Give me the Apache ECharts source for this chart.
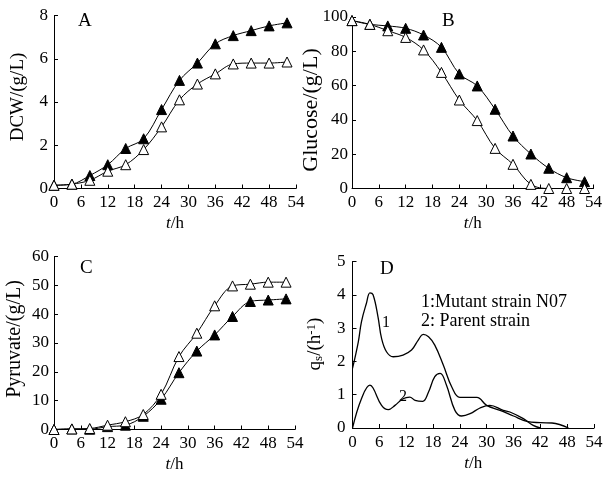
<!DOCTYPE html>
<html>
<head>
<meta charset="utf-8">
<script src="https://cdn.jsdelivr.net/npm/echarts@6/dist/echarts.min.js"></script>
<style>
html,body{margin:0;padding:0;background:#fff;}
#c{width:606px;height:479px;}
</style>
</head>
<body>
<div id="c"></div>
<script>
// ---- data ----
const hours = [0, 4, 8, 12, 16, 20, 24, 28, 32, 36, 40, 44, 48, 52];
const xTicks = [0, 6, 12, 18, 24, 30, 36, 42, 48, 54];

const dcwFilled = [0.15, 0.2, 0.6, 1.1, 1.85, 2.3, 3.65, 5.0, 5.8, 6.69, 7.07, 7.3, 7.52, 7.66];
const dcwOpen = [0.15, 0.2, 0.38, 0.8, 1.1, 1.8, 2.85, 4.1, 4.83, 5.3, 5.76, 5.8, 5.8, 5.85];

const glucoseFilled = [97.9, 95.7, 94.8, 93.4, 89.5, 82.3, 66.8, 59.8, 46.2, 30.6, 20.1, 11.8, 6.3, 4.0];
const glucoseOpen = [97.9, 95.7, 92.0, 88.1, 80.8, 67.7, 51.6, 39.6, 23.4, 14.1, 2.4, 0, 0, 0];

const pyruvateFilled = [0, 0.2, 0.1, 1.0, 1.5, 4.6, 10.5, 19.7, 27.2, 32.8, 39.2, 44.4, 44.9, 45.3];
const pyruvateOpen = [0, 0.2, 0.35, 1.5, 2.7, 5.2, 12.2, 25.3, 33.4, 42.9, 49.8, 50.4, 51.1, 51.1];

// panel D: specific glucose consumption rate curves [t, qs]
const qsMutantT = [0, 1.3, 2, 3.1, 3.9, 4.6, 5.7, 6.5, 7.6, 9.1, 11.3, 13.2, 14.7, 15.8, 17, 18.4, 20.3, 22.2, 24, 27.8, 30, 33, 36, 39, 42, 44.6, 48.3];
const qsMutantV = [1.79, 2.59, 3.19, 3.74, 4.06, 4.0, 3.34, 2.69, 2.29, 2.14, 2.19, 2.34, 2.64, 2.81, 2.74, 2.49, 1.89, 1.23, 0.92, 0.92, 0.68, 0.53, 0.36, 0.2, 0.16, 0.15, 0];
const qsParentT = [0, 2, 3.9, 4.6, 6.5, 8, 9.5, 11.3, 12.8, 14, 15.7, 17, 18.4, 19.6, 21, 22.9, 24.4, 26.3, 28.5, 30.7, 33.7, 35.2, 38.2, 40.4, 42];
const qsParentV = [0, 0.88, 1.29, 1.2, 0.68, 0.55, 0.68, 0.88, 0.93, 0.83, 0.8, 1.08, 1.54, 1.64, 1.29, 0.53, 0.36, 0.43, 0.6, 0.68, 0.53, 0.48, 0.28, 0.08, 0];

const panelLabels = ['A', 'B', 'C', 'D'];
const yNames = ['DCW/(g/L)', 'Glucose/(g/L)', 'Pyruvate/(g/L)', 'q{sub|s}/(h{sup|-1})'];
const legendLines = ['1:Mutant strain N07', '2: Parent strain'];
const curveTags = ['1', '2'];

// ---- chart ----
const FONT = '"Liberation Serif", "Times New Roman", serif';
const chart = echarts.init(document.getElementById('c'), null, {renderer: 'canvas'});

const grids = [
  {left: 54, top: 15.5, width: 242, height: 173},
  {left: 352, top: 17, width: 241.5, height: 171.5},
  {left: 54, top: 256.5, width: 241, height: 173},
  {left: 352.5, top: 261.5, width: 241.5, height: 166.5}
];
const yRanges = [[0, 8, 2], [0, 100, 20], [0, 60, 10], [0, 5, 1]];
const yLabelMargins = [6, 4, 5, 7];

const axisLine = {show: true, lineStyle: {color: '#000', width: 1}};
const axisTick = {show: true, inside: true, length: 4, lineStyle: {color: '#000', width: 1}};

const xAxes = grids.map((g, i) => ({
  type: 'value', gridIndex: i, min: 0, max: 54, interval: 6,
  axisLine, axisTick, splitLine: {show: false},
  axisLabel: {color: '#000', fontFamily: FONT, fontSize: 17, margin: 6},
  name: '{i|t}/h', nameLocation: 'middle', nameGap: 27,
  nameTextStyle: {color: '#000', fontFamily: FONT, fontSize: 17,
    rich: {i: {fontStyle: 'italic', fontFamily: FONT, fontSize: 17, color: '#000'}}}
}));

const yAxes = grids.map((g, i) => ({
  type: 'value', gridIndex: i, min: yRanges[i][0], max: yRanges[i][1], interval: yRanges[i][2],
  axisLine, axisTick, splitLine: {show: false},
  axisLabel: {color: '#000', fontFamily: FONT, fontSize: 17, margin: yLabelMargins[i]}
}));

function pairs(xs, ys) { return xs.map((x, k) => [x, ys[k]]); }

function markerSeries(idx, values, filled) {
  return {
    type: 'line', xAxisIndex: idx, yAxisIndex: idx,
    data: pairs(hours, values),
    smooth: 0.35,
    symbol: 'triangle', symbolSize: 10,
    z: filled ? 2 : 3,
    lineStyle: {color: '#000', width: 1},
    itemStyle: filled ? {color: '#000', borderColor: '#000', borderWidth: 1}
                      : {color: '#fff', borderColor: '#000', borderWidth: 1},
    emphasis: {disabled: true},
    silent: true
  };
}

function curveSeries(idx, xs, ys) {
  return {
    type: 'line', xAxisIndex: idx, yAxisIndex: idx,
    data: pairs(xs, ys), smooth: 0.4, showSymbol: false, symbol: 'none',
    lineStyle: {color: '#000', width: 1.3},
    emphasis: {disabled: true}, silent: true
  };
}

const series = [
  markerSeries(0, dcwFilled, true), markerSeries(0, dcwOpen, false),
  markerSeries(1, glucoseFilled, true), markerSeries(1, glucoseOpen, false),
  markerSeries(2, pyruvateFilled, true), markerSeries(2, pyruvateOpen, false),
  curveSeries(3, qsMutantT, qsMutantV), curveSeries(3, qsParentT, qsParentV)
];

const subRich = {
  sub: {fontSize: 13, fontFamily: FONT, fill: '#000', verticalAlign: 'bottom', padding: [7, 0, 0, 0]},
  sup: {fontSize: 13, fontFamily: FONT, fill: '#000', verticalAlign: 'top', padding: [0, 0, 7, 0]}
};

const txt = (x, y, s, size, align, rot) => ({
  type: 'text', x: x, y: y, rotation: rot || 0,
  style: {text: s, fill: '#000', font: size + 'px ' + FONT, fontSize: size, fontFamily: FONT,
    textAlign: align || 'left', textVerticalAlign: 'middle', align: align || 'left', verticalAlign: 'middle',
    rich: subRich},
  silent: true
});

const R = Math.PI / 2;
const graphic = [
  txt(78, 21, panelLabels[0], 19),
  txt(442, 21, panelLabels[1], 19),
  txt(80, 268, panelLabels[2], 19),
  txt(380, 269, panelLabels[3], 19),
  txt(421, 302, legendLines[0], 18),
  txt(421, 321, legendLines[1], 18),
  txt(386, 323, curveTags[0], 16, 'center'),
  txt(403, 397, curveTags[1], 16, 'center'),
  txt(18.5, 97, yNames[0], 19, 'center', R),
  txt(311, 110, yNames[1], 22, 'center', R),
  txt(14.5, 339, yNames[2], 20, 'center', R),
  txt(315, 344, yNames[3], 19, 'center', R)
];

chart.setOption({
  animation: false,
  backgroundColor: '#fff',
  grid: grids,
  xAxis: xAxes,
  yAxis: yAxes,
  series,
  graphic
});
</script>
</body>
</html>
